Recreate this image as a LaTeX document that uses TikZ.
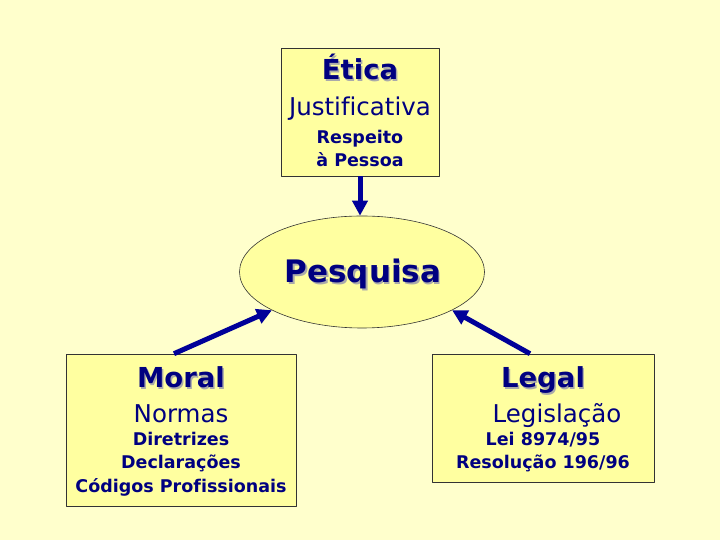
\documentclass[tikz,border=0pt]{standalone}
\usepackage{fontspec}
\setmainfont[Ligatures=NoCommon]{DejaVu Sans}
\usetikzlibrary{arrows.meta,shapes.geometric,positioning}
\definecolor{bgyellow}{RGB}{255,255,204}
\definecolor{boxyellow}{RGB}{255,255,160}
\definecolor{navy}{RGB}{0,0,128}
\definecolor{arrowblue}{RGB}{0,0,153}
\definecolor{shade}{RGB}{170,170,170}
\newcommand{\titletext}[3]{%
  \node[title,text=shade] at ([xshift=1.5pt,yshift=-1.5pt]#2) {#3};
  \node[title] (#1) at (#2) {#3};}

\begin{document}
\begin{tikzpicture}[x=1pt,y=1pt,>=Stealth,line cap=round,line join=round,
  box/.style={draw=black!80,line width=0.6pt,fill=boxyellow,inner sep=0pt},
  title/.style={anchor=base,font=\fontsize{27.5}{30}\selectfont\bfseries,text=navy},
  sub/.style={anchor=base,font=\fontsize{24.5}{28}\selectfont,text=navy},
  small/.style={anchor=base,font=\fontsize{17.5}{20}\selectfont\bfseries,text=navy},
  link/.style={-{Triangle[length=15pt,width=15pt]},line width=5pt,draw=arrowblue,line cap=butt}]
% background
\fill[bgyellow] (0,0) rectangle (720,540);
\useasboundingbox (0,0) rectangle (720,540);
% boxes
\node[box,minimum width=158pt,minimum height=128pt] (etica) at (360,428) {};
\node[ellipse,draw=black!80,line width=0.6pt,fill=boxyellow,minimum width=245pt,minimum height=112pt] (pesquisa) at (362,268) {};
\node[box,minimum width=230pt,minimum height=152pt] (moral) at (181,110) {};
\node[box,minimum width=222pt,minimum height=128pt] (legal) at (543,122) {};
% top box text
\titletext{eticat}{360,460}{Ética}
\node[sub] (just) at (360,424) {Justificativa};
\node[small] (resp) at (360,396) {Respeito};
\node[small] (pess) at (360,373) {à Pessoa};
% ellipse text
\titletext{pesq}{363,257}{\fontsize{31}{34}\selectfont Pesquisa}
% moral box text
\titletext{moralt}{181,152}{Moral}
\node[sub] (normas) at (181,117) {Normas};
\node[small] (dir) at (181,94) {Diretrizes};
\node[small] (decl) at (181,71) {Declarações};
\node[small] (cod) at (181,47) {Códigos Profissionais};
% legal box text
\titletext{legalt}{543,152}{Legal}
\node[sub] (legis) at (557,117) {Legislação};
\node[small] (lei) at (543,94) {Lei 8974/95};
\node[small] (resol) at (543,71) {Resolução 196/96};
% arrows
\draw[link] (etica.south) -- (etica.south |- pesquisa.north);
\draw[link] ([xshift=-7pt]moral.north) -- (pesquisa.203);
\draw[link] ([xshift=-13pt]legal.north) -- (pesquisa.-23);
\end{tikzpicture}
\end{document}
